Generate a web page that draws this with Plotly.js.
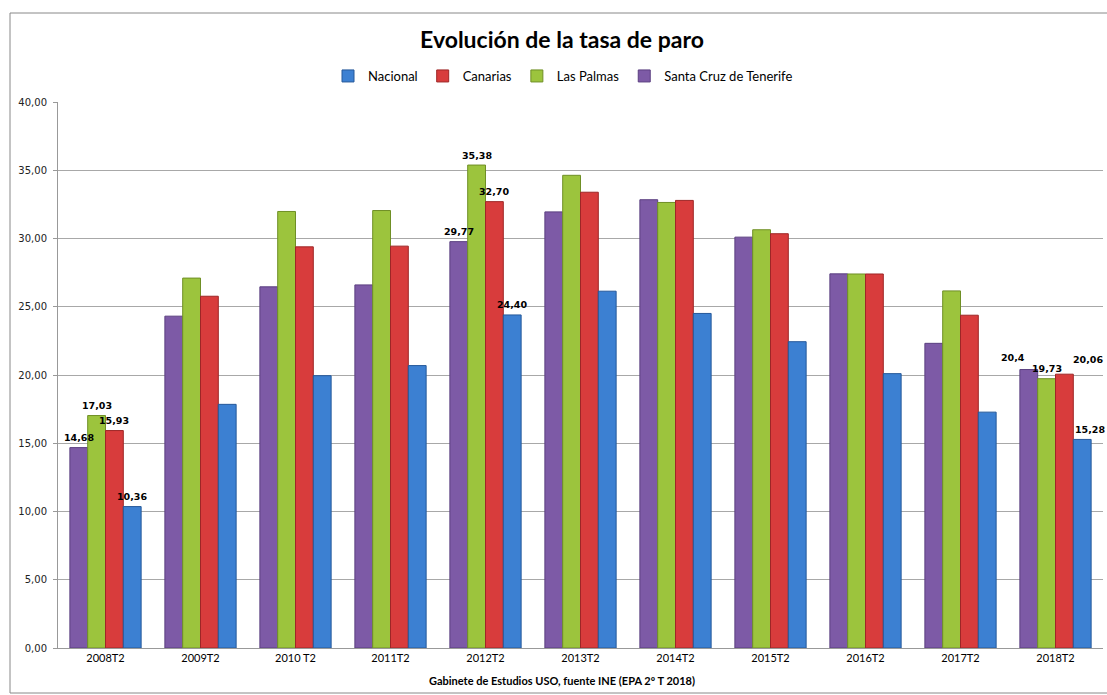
<!DOCTYPE html>
<html>
<head>
<meta charset="utf-8">
<script src="https://cdn.plot.ly/plotly-3.0.1.min.js"></script>
<style>html,body{margin:0;padding:0;background:#fff;}#chart{width:1107px;height:695px;}</style>
</head>
<body>
<div id="chart"></div>
<script>
// ---- data ----
const categories = ["2008T2","2009T2","2010 T2","2011T2","2012T2","2013T2","2014T2","2015T2","2016T2","2017T2","2018T2"];
const santaCruz  = [14.68, 24.31, 26.46, 26.60, 29.77, 31.95, 32.84, 30.10, 27.41, 22.32, 20.40];
const lasPalmas  = [17.03, 27.10, 31.98, 32.05, 35.38, 34.63, 32.64, 30.64, 27.40, 26.16, 19.73];
const canarias   = [15.93, 25.77, 29.39, 29.44, 32.70, 33.39, 32.79, 30.35, 27.40, 24.38, 20.06];
const nacional   = [10.36, 17.85, 19.95, 20.69, 24.40, 26.14, 24.51, 22.44, 20.10, 17.28, 15.28];
const labelsSantaCruz = ["14,68","","","","29,77","","","","","","20,4"];
const labelsLasPalmas = ["17,03","","","","35,38","","","","","","19,73"];
const labelsCanarias  = ["15,93","","","","32,70","","","","","","20,06"];
const labelsNacional  = ["10,36","","","","24,40","","","","","","15,28"];
const yTicks = [0,5,10,15,20,25,30,35,40];
const yTickText = ["0,00","5,00","10,00","15,00","20,00","25,00","30,00","35,00","40,00"];

// ---- styles ----
const series = [
  {name:"Santa Cruz de Tenerife", y:santaCruz, labels:labelsSantaCruz, color:"#7d5aa6", line:"#5b3f80"},
  {name:"Las Palmas", y:lasPalmas, labels:labelsLasPalmas, color:"#9cc43d", line:"#6f8f25"},
  {name:"Canarias", y:canarias, labels:labelsCanarias, color:"#d83c3c", line:"#9e2626"},
  {name:"Nacional", y:nacional, labels:labelsNacional, color:"#3c80d2", line:"#25589a"}
];

const W = 1107, H = 695;
const margin = {l:58, r:4, t:102, b:47};
const plotW = W - margin.l - margin.r;
const plotH = H - margin.t - margin.b;
const bargap = 0.25;
const barPx = plotW / categories.length * (1 - bargap) / series.length;

const traces = series.map(s => ({
  type:"bar", name:s.name, x:categories, y:s.y,
  marker:{color:s.color, line:{color:s.line, width:1}},
  hoverinfo:"x+y"
}));

// label placement tweaks (style only), keyed by category index and series index
const extraShift = {10: [-16, 0, 24, 8]};
const extraY = {10: [2, 0, 5, 0]};

const annotations = [];
series.forEach((s, si) => {
  s.labels.forEach((t, ci) => {
    if (!t) return;
    const dx = (si - (series.length - 1) / 2) * barPx + (extraShift[ci] ? extraShift[ci][si] : 0);
    const dy = 10 + (extraY[ci] ? extraY[ci][si] : 0);
    annotations.push({
      x: categories[ci], y: s.y[ci], xref:"x", yref:"y",
      text: t, showarrow:false, xshift: dx, yshift: dy,
      xanchor:"center", yanchor:"middle",
      font:{family:"DejaVu Sans", size:9.5, color:"#000", weight:"bold"}
    });
  });
});

annotations.push({
  text:"<b>Gabinete de Estudios USO, fuente INE (EPA 2º T 2018)</b>",
  xref:"paper", yref:"paper", x:(562 - margin.l) / plotW, y:(margin.t + plotH - 680) / plotH,
  xanchor:"center", yanchor:"middle", showarrow:false,
  font:{family:"Lato", size:11, color:"#000"}
});

const layout = {
  width:W, height:H, margin:margin,
  paper_bgcolor:"#fff", plot_bgcolor:"#fff",
  separators:",.",
  barmode:"group", bargap:bargap, bargroupgap:0,
  title:{text:"<b>Evolución de la tasa de paro</b>", x:562 / W, xref:"container", y:1 - 40 / H, yref:"container",
         xanchor:"center", yanchor:"middle", font:{family:"Lato", size:23, color:"#000"}},
  showlegend:true,
  legend:{orientation:"h", traceorder:"reversed", x:(563 - margin.l) / plotW, xanchor:"center",
          y:(margin.t + plotH - 76) / plotH, yanchor:"middle",
          font:{family:"Lato", size:13, color:"#000"}, itemwidth:30, bgcolor:"rgba(0,0,0,0)"},
  xaxis:{type:"category", range:[-0.5, categories.length - 0.5], autorange:false,
         showgrid:false, showline:true, linecolor:"#999", linewidth:1,
         ticks:"", tickfont:{family:"Lato", size:11, color:"#000"}, fixedrange:true},
  yaxis:{range:[0,40], autorange:false, tickvals:yTicks, ticktext:yTickText, showgrid:true, gridcolor:"#a8a8a8", gridwidth:1,
         showline:true, linecolor:"#999", linewidth:1, ticks:"outside", ticklen:4, tickcolor:"#999",
         ticklabelstandoff:4, tickfont:{family:"DejaVu Sans", size:10, color:"#222"}, zeroline:false, fixedrange:true},
  annotations:annotations,
  shapes:[{type:"rect", xref:"paper", yref:"paper",
           x0:(10 - margin.l) / plotW, x1:(1112 - margin.l) / plotW,
           y0:(margin.t + plotH - 693) / plotH, y1:(margin.t + plotH - 13) / plotH,
           line:{color:"#888", width:1}, fillcolor:"rgba(0,0,0,0)", layer:"below"}]
};

Plotly.newPlot("chart", traces, layout, {displayModeBar:false, staticPlot:true});
</script>
</body>
</html>
